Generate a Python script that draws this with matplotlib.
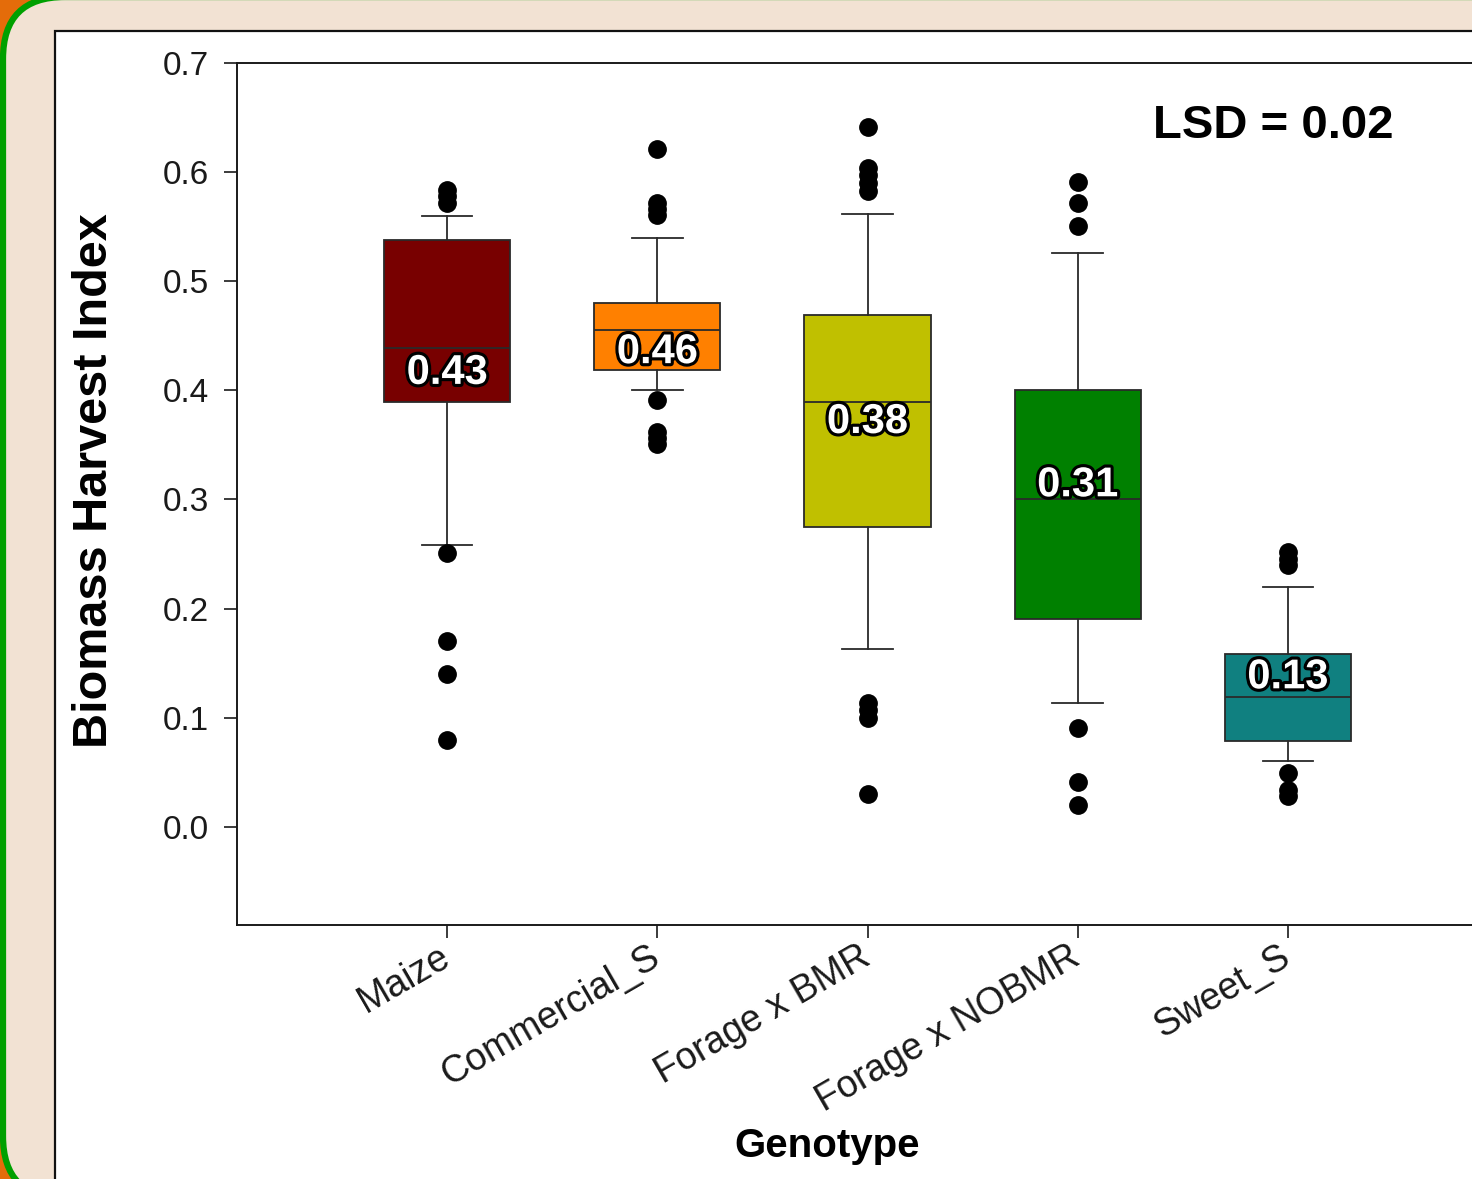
import matplotlib
matplotlib.use("Agg")
import matplotlib.pyplot as plt
import matplotlib.patheffects as pe
from matplotlib.patches import FancyBboxPatch, Rectangle

# ---- data ----
genotypes = ["Maize", "Commercial_S", "Forage x BMR", "Forage x NOBMR", "Sweet_S"]
q1 = [0.389, 0.419, 0.275, 0.190, 0.079]
medians = [0.439, 0.455, 0.389, 0.300, 0.119]
q3 = [0.538, 0.480, 0.469, 0.400, 0.158]
whisker_lo = [0.258, 0.400, 0.163, 0.113, 0.060]
whisker_hi = [0.560, 0.540, 0.562, 0.526, 0.220]
fliers = [
    [0.584, 0.578, 0.572, 0.251, 0.170, 0.140, 0.080],
    [0.621, 0.572, 0.566, 0.561, 0.391, 0.362, 0.356, 0.351],
    [0.641, 0.604, 0.597, 0.590, 0.583, 0.113, 0.107, 0.100, 0.030],
    [0.591, 0.572, 0.551, 0.091, 0.041, 0.020],
    [0.252, 0.245, 0.240, 0.049, 0.034, 0.028],
]
means = [0.43, 0.46, 0.38, 0.31, 0.13]
lsd = 0.02

box_colors = ["#780000", "#ff8000", "#c0c000", "#008000", "#108080"]
label_y = [0.416, 0.435, 0.371, 0.313, 0.137]

# ---- figure ----
W, H, DPI = 1472, 1179, 100
fig = plt.figure(figsize=(W / DPI, H / DPI), dpi=DPI)
fig.patch.set_facecolor("#e46c0a")
plt.rcParams["font.family"] = ["Liberation Sans", "DejaVu Sans"]


def px(x, y):
    """pixel (top-left origin) -> figure fraction"""
    return x / W, 1 - y / H


# rounded beige frame with green outline
frame_top, frame_bot = -3, 1198
x0, y0 = px(3, frame_bot)
frame = FancyBboxPatch((x0, y0), 1.2, (frame_bot - frame_top) / H,
                       boxstyle="round,pad=0,rounding_size=0.042",
                       mutation_aspect=W / H,
                       transform=fig.transFigure, facecolor="#f2e2d3",
                       edgecolor="#00a000", linewidth=4.5, zorder=0)
fig.patches.append(frame)

# white panel
px0, py0 = px(55, 1300)
panel = Rectangle((px0, py0), 1.2, (1300 - 31) / H, transform=fig.transFigure,
                  facecolor="white", edgecolor="#111111", linewidth=1.6, zorder=1)
fig.patches.append(panel)

# axes
ax_l, ax_r, ax_t, ax_b = 237, 1498, 63, 925
ax = fig.add_axes([ax_l / W, 1 - ax_b / H, (ax_r - ax_l) / W, (ax_b - ax_t) / H])
ax.set_facecolor("white")
ax.set_zorder(2)

positions = list(range(1, len(genotypes) + 1))
stats = []
for i, g in enumerate(genotypes):
    stats.append(dict(label=g, q1=q1[i], med=medians[i], q3=q3[i],
                      whislo=whisker_lo[i], whishi=whisker_hi[i],
                      fliers=fliers[i]))

bp = ax.bxp(stats, positions=positions, widths=0.6, capwidths=0.24,
            patch_artist=True, showfliers=True,
            boxprops=dict(edgecolor="#2a2a2a", linewidth=1.3),
            medianprops=dict(color="#2a2a2a", linewidth=1.3),
            whiskerprops=dict(color="#2a2a2a", linewidth=1.3),
            capprops=dict(color="#2a2a2a", linewidth=1.3),
            flierprops=dict(marker="o", markerfacecolor="black",
                            markeredgecolor="black", markersize=12.5))
for patch, c in zip(bp["boxes"], box_colors):
    patch.set_facecolor(c)

for pos, m, yy in zip(positions, means, label_y):
    ax.text(pos, yy, f"{m:.2f}", ha="center", va="center", color="white",
            fontsize=30, fontweight="bold",
            path_effects=[pe.withStroke(linewidth=4.5, foreground="black")],
            zorder=5)

ax.set_xlim(0, 6)
ax.set_ylim(-0.09, 0.7)
ax.set_yticks([0.0, 0.1, 0.2, 0.3, 0.4, 0.5, 0.6, 0.7])
ax.set_yticklabels([f"{v:.1f}" for v in ax.get_yticks()])
ax.set_xticks(positions)
ax.set_xticklabels(genotypes)

for s in ax.spines.values():
    s.set_linewidth(1.4)
    s.set_color("#1a1a1a")

ax.tick_params(axis="y", direction="out", length=9.5, width=1.2,
               labelsize=24, pad=11, colors="#1a1a1a")
ax.tick_params(axis="x", direction="out", length=9, width=1.2,
               labelsize=27, pad=12, colors="#1a1a1a")
for lab in ax.get_xticklabels():
    lab.set_rotation(30)
    lab.set_ha("right")
    lab.set_va("center")
    lab.set_rotation_mode("anchor")

ax.set_ylabel("Biomass Harvest Index", fontsize=35, fontweight="bold")
ax.yaxis.set_label_coords((117 - ax_l) / (ax_r - ax_l), (ax_b - 481) / (ax_b - ax_t))
ax.set_xlabel("Genotype", fontsize=29, fontweight="bold", va="top")
ax.xaxis.set_label_coords((827 - ax_l) / (ax_r - ax_l), (ax_b - 1127) / (ax_b - ax_t))

ax.text((1153 - ax_l) / (ax_r - ax_l), (ax_b - 126) / (ax_b - ax_t),
        f"LSD = {lsd:.2f}", transform=ax.transAxes, ha="left", va="center",
        fontsize=34, fontweight="bold")

fig.savefig("out.png", dpi=DPI, facecolor=fig.get_facecolor())
